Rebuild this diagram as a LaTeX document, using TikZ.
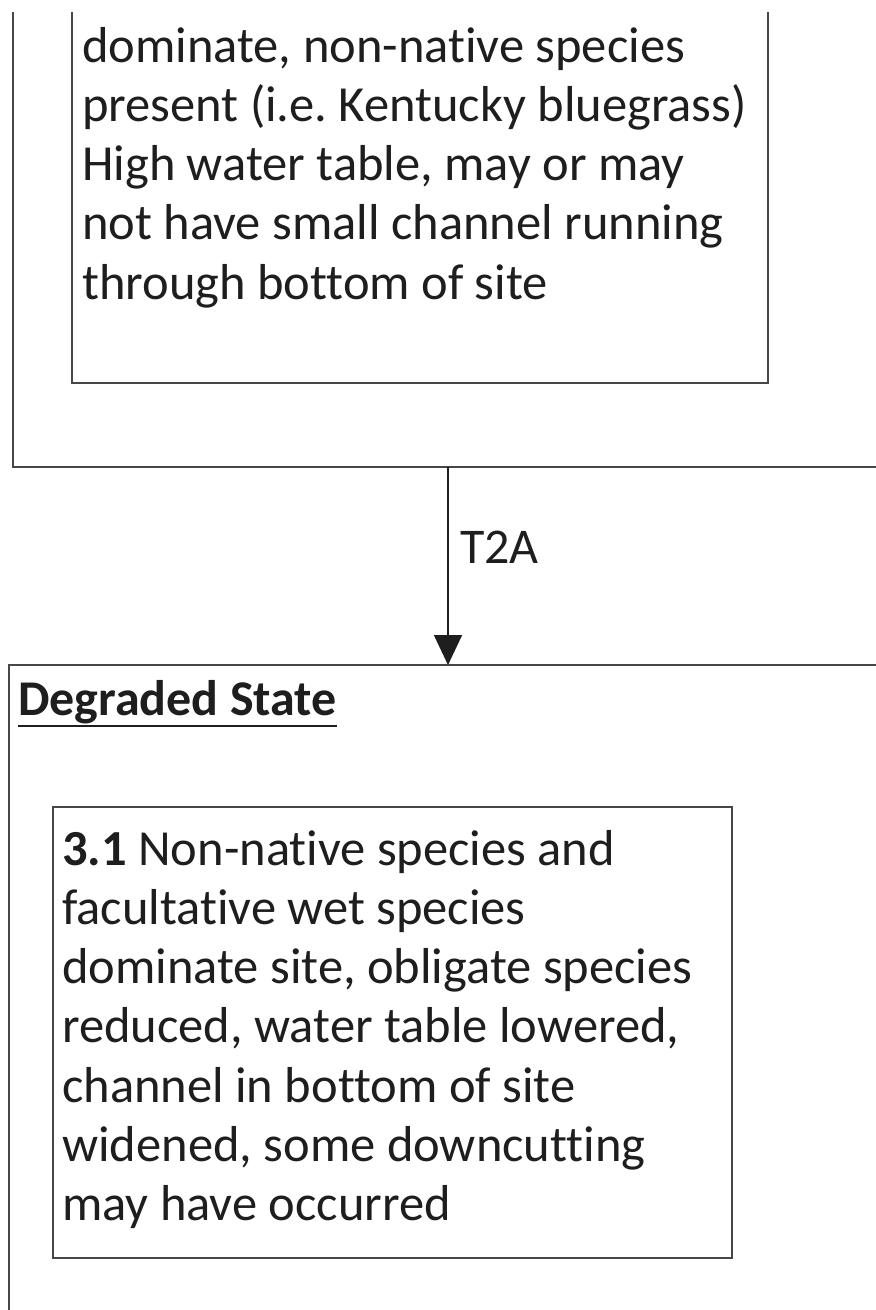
\documentclass[tikz,border=0pt]{standalone}
\usepackage{fontspec}
\setmainfont{Carlito}[Ligatures=NoCommon]
\frenchspacing
\usetikzlibrary{arrows.meta}
\definecolor{boxgray}{HTML}{474747}
\definecolor{textgray}{HTML}{1E1E1E}
\begin{document}
\begin{tikzpicture}[x=1pt,y=-1pt,
  statebox/.style={draw=boxgray, line width=2.8pt, rectangle, inner sep=0pt, outer sep=0pt, anchor=north west},
  bodytext/.style={anchor=north west, inner sep=0pt, align=left, text=textgray, font=\fontsize{50.5}{59.2}\selectfont},
  plaintext/.style={anchor=base west, inner sep=0pt, text=textgray, font=\fontsize{50}{59.5}\selectfont},
  arrowline/.style={draw=textgray, line width=1.7pt, -{Triangle[length=30pt,width=28pt]}}]
\fill[white] (0,0) rectangle (876,1310);
\useasboundingbox (0,0) rectangle (876,1310);
\clip (0,12) rectangle (876,1310);
% upper state (cut off at the top)
\node[statebox, minimum width=987pt, minimum height=767pt] (outerA) at (13,-300) {};
\node[statebox, minimum width=696pt, minimum height=683pt] (innerA) at (72,-300) {};
\node[bodytext] (textA) at (82,20.6) {\strut dominate, non-native species\\present (i.e. Kentucky bluegrass)\\High water table, may or may\\not have small channel running\\through bottom of site};
% lower state
\node[statebox, minimum width=991pt, minimum height=935pt] (outerB) at (9,665) {};
\node[plaintext, font=\fontsize{50}{59.5}\selectfont\bfseries] (deg) at (18,715) {Degraded State};
\draw[draw=textgray, line width=2.6pt] ([yshift=-11pt]deg.base west) -- ([yshift=-11pt]deg.base east);
\node[statebox, minimum width=679pt, minimum height=451pt] (innerB) at (53,807) {};
\node[bodytext] (textB) at (62,823.6) {\strut\textbf{3.1} Non-native species and\\facultative wet species\\dominate site, obligate species\\reduced, water table lowered,\\channel in bottom of site\\widened, some downcutting\\may have occurred};
% transition
\coordinate (ax) at (448,0);
\draw[arrowline] (outerA.south -| ax) -- (outerB.north -| ax);
\node[plaintext] (t2a) at (460,563) {T2A};
\end{tikzpicture}
\end{document}
